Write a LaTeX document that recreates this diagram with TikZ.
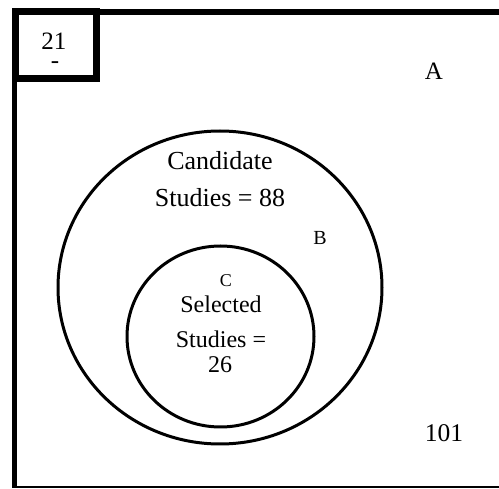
\documentclass[tikz,border=0pt]{standalone}
\usepackage{fontspec}
\setmainfont{Liberation Serif}

\begin{document}
\begin{tikzpicture}[x=1pt,y=-1pt,
  txt/.style={inner sep=0pt,anchor=base},
  big/.style={txt,font=\fontsize{26}{30}\selectfont},
  mid/.style={txt,font=\fontsize{24}{28}\selectfont},
  ring/.style={line width=3pt}]

\useasboundingbox (0,0) rectangle (499,489);

% frame of the whole set
\draw [line width=5.5pt] (14.5,12) -- (499,12);
\draw [line width=5pt] (14.5,9.5) -- (14.5,487);
\draw [line width=2pt] (12,487) -- (499,487);

% box for the count outside
\draw [line width=7pt,fill=white] (15,12) rectangle (96.5,79);

% the two sets
\draw [ring] (220,287.5) ellipse [x radius=162pt, y radius=156.5pt];
\draw [ring] (220.5,336.5) ellipse [x radius=93.5pt, y radius=90.5pt];

\node [txt,font=\fontsize{25}{28}\selectfont] (outnum) at (54,50) {21};
\node [txt,font=\fontsize{25}{28}\selectfont] (outdash) at (55,69) {-};
\node [txt,font=\fontsize{25}{28}\selectfont] (setA) at (434,80) {A};
\node [txt,font=\fontsize{25.5}{28}\selectfont] (numA) at (444,442) {101};

\node [big] (candname) at (220,169.3) {Candidate};
\node [big] (candnum) at (220,206.7) {Studies = 88};
\node [txt,font=\fontsize{20}{24}\selectfont] (setB) at (320,245) {B};

\node [txt,font=\fontsize{18}{22}\selectfont] (setC) at (226,287) {C};
\node [mid] (selname) at (221,313) {Selected};
\node [mid] (selnum) at (221,348) {Studies =};
\node [mid] (selval) at (220,373) {26};

\end{tikzpicture}
\end{document}
